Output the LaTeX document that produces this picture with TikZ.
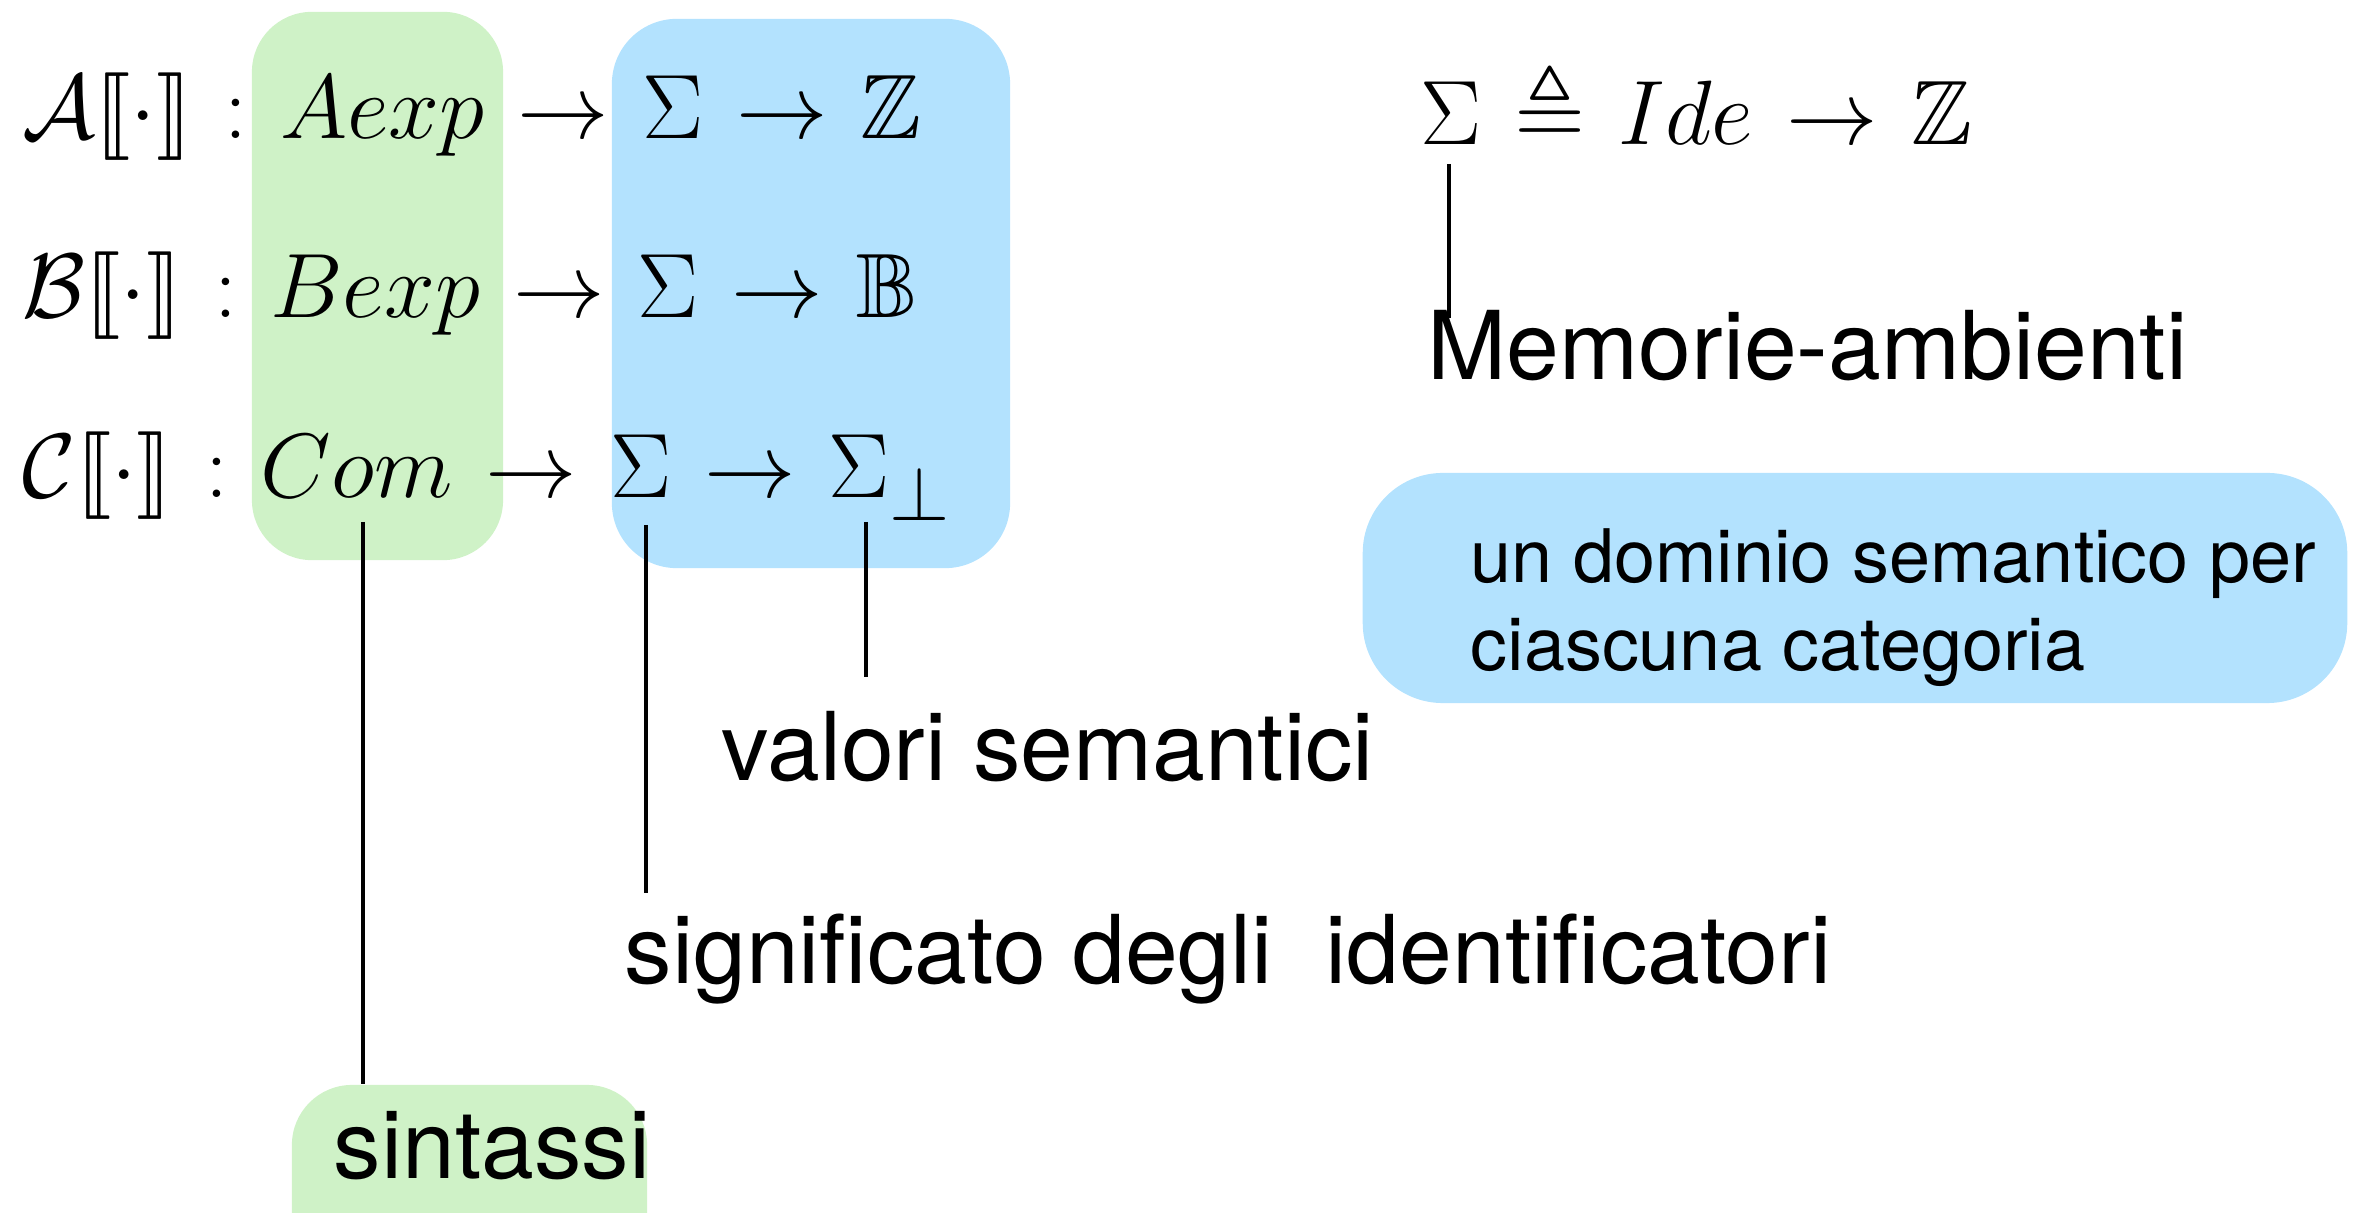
\RequirePackage{fix-cm}
\documentclass[tikz,border=0pt]{standalone}
\usepackage{amssymb}
\usepackage{stmaryrd}
\usepackage{fontspec}
\newfontfamily\helv{TeX Gyre Heros}
\DeclareMathSizes{26}{26}{22}{17}
\definecolor{gfill}{RGB}{207,242,199}
\definecolor{bfill}{RGB}{179,226,254}
\newcommand{\mrow}[1]{$\thickmuskip=6.5mu plus 2mu #1$}
\tikzset{
  greenbox/.style={fill=gfill, rounded corners=0.6cm, inner sep=0pt},
  bluebox/.style={fill=bfill, rounded corners=0.65cm, inner sep=0pt},
  mathrow/.style={anchor=base west, inner sep=0pt, font=\fontsize{26}{32}\selectfont},
  lbl/.style={anchor=base west, inner sep=0pt, font=\helv\fontsize{27}{32}\selectfont},
  smalllbl/.style={anchor=base west, inner sep=0pt, align=left, font=\helv\fontsize{21}{25.3}\selectfont},
  conn/.style={line width=0.9pt}
}
\begin{document}
\begin{tikzpicture}[x=0.01cm,y=-0.01cm]
\useasboundingbox (0,0) rectangle (2356,1213);
% background boxes
\node[greenbox, minimum width=2.51cm, minimum height=5.48cm] (gbox) at (377.5,286) {};
\node[bluebox, minimum width=3.98cm, minimum height=5.49cm] (bbox) at (811,293.5) {};
\node[bluebox, rounded corners=0.8cm, minimum width=9.84cm, minimum height=2.30cm] (dombox) at (1855,588) {};
\node[greenbox, minimum width=3.55cm, minimum height=1.9cm] (sbox) at (469.5,1180) {};
% math rows
\node[mathrow] (rowA) at (22,139) {\mrow{\mathcal{A}\llbracket\cdot\rrbracket : Aexp \to \Sigma \to \mathbb{Z}}};
\node[mathrow] (rowB) at (22,318) {\mrow{\mathcal{B}\llbracket\cdot\rrbracket : Bexp \to \Sigma \to \mathbb{B}}};
\node[mathrow] (rowC) at (22,498) {\mrow{\mathcal{C}\llbracket\cdot\rrbracket : Com \to \Sigma \to \Sigma_\bot}};
\node[mathrow] (sigdef) at (1420,145) {\mrow{\Sigma \triangleq Ide \to \mathbb{Z}}};
% labels
\node[lbl] (memo) at (1427,380) {Memorie-ambienti};
\node[lbl] (valori) at (721,781) {valori semantici};
\node[lbl] (signif) at (624,984) {significato degli\ \ identificatori};
\node[lbl] (sint) at (333,1179) {sintassi};
\node[smalllbl] (dom) at (1470,671) {un dominio semantico per\\ciascuna categoria};
% connectors
\coordinate (comfoot) at (363,522);
\draw[conn] (comfoot) -- (comfoot |- sbox.north);
\coordinate (sigfoot) at (646,525);
\coordinate (sigend) at (646,893);
\draw[conn] (sigfoot) -- (sigend);
\coordinate (botfoot) at (866,522);
\coordinate (botend) at (866,677);
\draw[conn] (botfoot) -- (botend);
\coordinate (memotop) at (1449,164);
\coordinate (memoend) at (1449,318);
\draw[conn] (memotop) -- (memoend);
\end{tikzpicture}
\end{document}
